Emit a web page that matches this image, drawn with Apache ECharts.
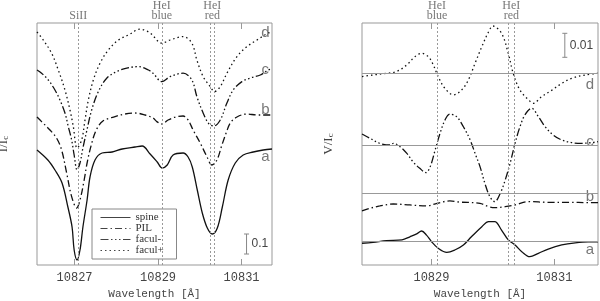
<!DOCTYPE html>
<html><head><meta charset="utf-8">
<script src="https://cdn.jsdelivr.net/npm/echarts@6/dist/echarts.min.js"></script>
<style>html,body{margin:0;padding:0;background:#fff}#c{width:600px;height:301px}</style>
</head><body><div id="c"></div>
<script>
// ---------- Left panel: intensity profiles I/Ic ----------
const wlSpineI = [10826.10,10826.36,10826.53,10826.70,10826.84,10826.94,10826.99,10827.06,10827.13,10827.20,10827.30,10827.37,10827.49,10827.66,10827.90,10828.14,10828.45,10828.62,10828.81,10828.98,10829.10,10829.22,10829.36,10829.60,10829.72,10829.82,10829.94,10830.06,10830.18,10830.30,10830.42,10830.54,10830.68,10830.85,10831.04,10831.28,10831.52,10831.73];
const iSpine = [0.995,0.945,0.895,0.83,0.71,0.61,0.495,0.445,0.495,0.61,0.745,0.86,0.945,0.98,0.985,1.0,1.01,1.015,0.975,0.935,0.905,0.92,0.97,0.98,0.96,0.91,0.795,0.68,0.605,0.575,0.605,0.71,0.845,0.93,0.97,0.985,0.995,1.0];

const wlPilI = [10826.10,10826.21,10826.41,10826.57,10826.69,10826.81,10826.93,10827.05,10827.13,10827.23,10827.30,10827.40,10827.52,10827.68,10827.97,10828.21,10828.45,10828.69,10828.88,10828.97,10829.09,10829.24,10829.45,10829.60,10829.72,10829.84,10830.01,10830.17,10830.29,10830.41,10830.53,10830.64,10830.73,10830.89,10831.13,10831.37,10831.57,10831.73];
const iPil = [0.99,0.967,0.925,0.884,0.825,0.71,0.592,0.535,0.575,0.675,0.76,0.85,0.925,0.97,0.992,1.005,1.01,1.0,0.985,0.967,0.955,0.975,0.992,0.995,0.975,0.925,0.86,0.792,0.75,0.775,0.85,0.915,0.96,0.99,1.005,1.0,1.0,1.0];

const wlFaculMinusI = [10826.10,10826.21,10826.37,10826.53,10826.65,10826.77,10826.85,10826.93,10826.99,10827.06,10827.13,10827.20,10827.28,10827.41,10827.57,10827.77,10828.01,10828.25,10828.53,10828.77,10828.88,10829.09,10829.29,10829.60,10829.81,10829.93,10830.08,10830.22,10830.34,10830.49,10830.65,10830.80,10831.01,10831.21,10831.45,10831.64,10831.73];
const iFaculMinus = [1.005,0.989,0.955,0.905,0.855,0.79,0.722,0.655,0.58,0.505,0.54,0.615,0.69,0.805,0.897,0.964,0.997,1.014,1.022,1.005,0.989,0.947,0.972,0.989,0.955,0.872,0.79,0.735,0.725,0.755,0.84,0.905,0.947,0.965,0.98,1.005,1.01];

const wlFaculPlusI = [10826.10,10826.25,10826.45,10826.61,10826.77,10826.89,10826.97,10827.06,10827.17,10827.25,10827.33,10827.45,10827.61,10827.81,10828.05,10828.29,10828.57,10828.81,10829.09,10829.29,10829.60,10829.81,10829.93,10830.08,10830.25,10830.35,10830.49,10830.65,10830.89,10831.13,10831.37,10831.64,10831.73];
const iFaculPlus = [1.005,0.965,0.899,0.815,0.715,0.615,0.532,0.425,0.465,0.565,0.665,0.765,0.849,0.915,0.965,0.99,1.019,1.0,0.949,0.965,0.982,0.949,0.865,0.782,0.732,0.707,0.732,0.799,0.882,0.932,0.965,1.0,1.005];

const offsetsI = [-0.42, -0.25, -0.03, 0.16];   // a, b, c, d vertical shifts

// ---------- Right panel: Stokes V/Ic ----------
const wlSpineV = [10827.87,10828.05,10828.27,10828.52,10828.65,10828.76,10828.84,10828.92,10829.00,10829.11,10829.25,10829.38,10829.52,10829.65,10829.82,10829.93,10830.03,10830.14,10830.25,10830.36,10830.47,10830.60,10830.74,10830.90,10831.12,10831.34,10831.55,10831.71];
const vSpine = [-0.0004,0,0.0007,0.0010,0.0023,0.0035,0.0047,0.0030,0.0003,-0.0025,-0.0042,-0.0032,-0.0011,0.0023,0.0065,0.0086,0.0086,0.0051,0.0010,-0.0011,-0.0039,-0.0060,-0.0046,-0.0028,-0.0011,-0.0002,0.0002,0.0002];

const wlPilV = [10827.87,10828.00,10828.16,10828.38,10828.65,10828.92,10829.09,10829.30,10829.46,10829.79,10829.93,10830.03,10830.20,10830.36,10830.58,10830.90,10831.23,10831.55,10831.71];
const vPil = [-0.0032,-0.0021,-0.0011,-0.0003,-0.0007,-0.0011,0,0.0010,0.0005,0,-0.0014,-0.0018,-0.0014,-0.0007,0.0007,0.0004,0.0004,0.0003,0.0003];

const wlFaculMinusV = [10827.87,10828.00,10828.16,10828.33,10828.38,10828.49,10828.60,10828.70,10828.81,10828.91,10828.98,10829.06,10829.14,10829.22,10829.30,10829.41,10829.52,10829.63,10829.71,10829.79,10829.87,10829.95,10830.03,10830.12,10830.20,10830.28,10830.36,10830.44,10830.52,10830.63,10830.74,10830.85,10830.98,10831.12,10831.28,10831.44,10831.61,10831.71];
const vFaculMinus = [0.0053,0.0035,0.0014,0.0007,0.0014,0,-0.0028,-0.0063,-0.0090,-0.0108,-0.0083,-0.0014,0.0056,0.0111,0.0136,0.0125,0.0083,0.0028,-0.0028,-0.0083,-0.0153,-0.0208,-0.0229,-0.0194,-0.0139,-0.0069,0.0014,0.0083,0.0132,0.0160,0.0125,0.0083,0.0049,0.0028,0.0017,0.0014,0.0017,0.0021];

const wlFaculPlusV = [10827.87,10828.05,10828.27,10828.43,10828.60,10828.73,10828.84,10828.95,10829.03,10829.11,10829.22,10829.36,10829.49,10829.60,10829.71,10829.82,10829.93,10830.00,10830.14,10830.25,10830.33,10830.44,10830.58,10830.66,10830.79,10830.96,10831.12,10831.28,10831.50,10831.71];
const vFaculPlus = [-0.0014,-0.0007,0,0.0007,0.0035,0.0069,0.0083,0.0069,0.0035,-0.0014,-0.0063,-0.0090,-0.0070,-0.0028,0.0042,0.0111,0.0173,0.0197,0.0167,0.0083,0,-0.0070,-0.0111,-0.0125,-0.0098,-0.0070,-0.0042,-0.0021,-0.0007,0];

const offsetsV = [0.00946, 0.02571, 0.04929, 0.07988]; // a, b, c, d zero levels

// ---------- annotations ----------
const seriesNames = ['spine', 'PIL', 'facul-', 'facul+'];
const curveLetters = ['a', 'b', 'c', 'd'];
const letterPosI = [[10831.57, 0.54], [10831.57, 0.775], [10831.57, 0.975], [10831.57, 1.16]];
const letterPosV = [[10831.58, 0.00625], [10831.58, 0.02833], [10831.58, 0.05125], [10831.58, 0.075]];
const lineWlLeft = [10827.09, 10829.09, 10830.25, 10830.34];
const lineWlRight = [10829.09, 10830.25, 10830.34];
const lineNamesLeft = ['SiII', 'HeI\nblue', 'HeI\nred'];
const lineNameWlLeft = [10827.09, 10829.09, 10830.30];
const lineNamesRight = ['HeI\nblue', 'HeI\nred'];
const lineNameWlRight = [10829.09, 10830.30];
const tickValsLeft = [10827, 10829, 10831];
const tickValsRight = [10829, 10831];
const scaleBarI = [10831.12, 0.055, 0.155, '0.1'];
const scaleBarV = [10831.17, 0.08654, 0.09654, '0.01'];

// ---------- chart ----------
const ink = '#111';
const gray = '#999';
const dashes = ['solid', [7, 3, 1.5, 3], [8, 2.5, 1.5, 2.5, 1.5, 2.5, 1.5, 2.5], [1.5, 3]];
const zip = (wl, vals, off) => wl.map((w, i) => [w, vals[i] + off]);
const IData = [[wlSpineI, iSpine], [wlPilI, iPil], [wlFaculMinusI, iFaculMinus], [wlFaculPlusI, iFaculPlus]];
const VData = [[wlSpineV, vSpine], [wlPilV, vPil], [wlFaculMinusV, vFaculMinus], [wlFaculPlusV, vFaculPlus]];

const series = [];
IData.forEach((d, k) => {
  const s = {
    name: seriesNames[k], type: 'line', xAxisIndex: 0, yAxisIndex: 0,
    data: zip(d[0], d[1], offsetsI[k]), symbol: 'none', smooth: 0.35,
    lineStyle: { color: ink, width: 1.3, type: dashes[k] }, itemStyle: { color: ink }, z: 3
  };
  if (k === 0) {
    s.markLine = { silent: true, symbol: ['none', 'none'], label: { show: false },
      lineStyle: { color: gray, width: 1, type: [2, 2] },
      data: lineWlLeft.map(w => ({ xAxis: w })) };
  }
  series.push(s);
});
VData.forEach((d, k) => {
  const ml = [{ yAxis: offsetsV[k], lineStyle: { color: gray, width: 1, type: 'solid' } }];
  if (k === 0) lineWlRight.forEach(w => ml.push({ xAxis: w, lineStyle: { color: gray, width: 1, type: [2, 2] } }));
  series.push({
    name: seriesNames[k] + ' V', type: 'line', xAxisIndex: 2, yAxisIndex: 1,
    data: zip(d[0], d[1], offsetsV[k]), symbol: 'none', smooth: 0.35,
    lineStyle: { color: ink, width: 1.3, type: dashes[k] }, z: 3,
    markLine: { silent: true, symbol: ['none', 'none'], label: { show: false }, data: ml }
  });
});

const topLabel = (names, wls, yTop, xi, yi) => ({
  type: 'scatter', xAxisIndex: xi, yAxisIndex: yi, clip: false, silent: true,
  symbolSize: 1, itemStyle: { color: 'rgba(0,0,0,0)' },
  data: names.map((n, i) => ({ value: [wls[i], yTop], label: { formatter: n } })),
  label: { show: true, position: 'top', distance: 2, color: '#555', fontFamily: 'Liberation Serif',
    fontSize: 12, lineHeight: 10, align: 'center' }
});
series.push(topLabel(lineNamesLeft, lineNameWlLeft, 1.21, 0, 0));
series.push(topLabel(lineNamesRight, lineNameWlRight, 0.100833, 2, 1));

const letters = (pos, xi, yi) => ({
  type: 'scatter', xAxisIndex: xi, yAxisIndex: yi, clip: false, silent: true,
  symbolSize: 1, itemStyle: { color: 'rgba(0,0,0,0)' },
  data: pos.map((p, i) => ({ value: p, label: { formatter: curveLetters[i] } })),
  label: { show: true, position: 'inside', color: '#555', fontFamily: 'Liberation Sans', fontSize: 15 }
});
series.push(letters(letterPosI, 0, 0));
series.push(letters(letterPosV, 2, 1));

const scaleBar = (sb, xi, yi) => ({
  type: 'custom', xAxisIndex: xi, yAxisIndex: yi, silent: true, clip: false,
  data: [sb.slice(0, 3)],
  renderItem: (p, api) => {
    const a = api.coord([api.value(0), api.value(1)]);
    const b = api.coord([api.value(0), api.value(2)]);
    const st = { stroke: '#888', lineWidth: 1 };
    return { type: 'group', children: [
      { type: 'line', shape: { x1: a[0], y1: a[1], x2: b[0], y2: b[1] }, style: st },
      { type: 'line', shape: { x1: a[0] - 2.5, y1: a[1], x2: a[0] + 2.5, y2: a[1] }, style: st },
      { type: 'line', shape: { x1: b[0] - 2.5, y1: b[1], x2: b[0] + 2.5, y2: b[1] }, style: st },
      { type: 'text', x: a[0] + 5, y: (a[1] + b[1]) / 2,
        style: { text: sb[3], fill: '#444', fontFamily: 'Liberation Sans', fontSize: 12, verticalAlign: 'middle', align: 'left' } }
    ] };
  }
});
series.push(scaleBar(scaleBarI, 0, 0));
series.push(scaleBar(scaleBarV, 2, 1));

const xAx = (grid, pos, min, max, ticks, labels) => ({
  type: 'value', gridIndex: grid, position: pos, min: min, max: max,
  axisLine: { show: false }, splitLine: { show: false },
  axisTick: { show: true, inside: true, length: 6, lineStyle: { color: gray }, customValues: ticks },
  axisLabel: { show: labels, customValues: ticks, margin: 7, color: '#444', fontFamily: 'Liberation Mono', fontSize: 12,
    formatter: v => String(v) },
  name: labels ? 'Wavelength [Å]' : '', nameLocation: 'middle', nameGap: 22,
  nameTextStyle: { color: '#444', fontFamily: 'Liberation Mono', fontSize: 11 }
});
const yAx = (grid, max, nm) => ({
  type: 'value', gridIndex: grid, min: 0, max: max,
  axisLine: { show: false }, axisTick: { show: false }, axisLabel: { show: false }, splitLine: { show: false },
  name: '{m|' + nm + '/I}{s|c}', nameLocation: 'middle', nameGap: 27, nameRotate: 90,
  nameTextStyle: { rich: {
    m: { fontFamily: 'Liberation Serif', fontSize: 13, color: '#444' },
    s: { fontFamily: 'Liberation Serif', fontSize: 9, color: '#444', verticalAlign: 'bottom', padding: [4, 0, 0, 0] } } }
});

const option = {
  animation: false,
  backgroundColor: '#fff',
  grid: [
    { left: 37, top: 23, width: 235, height: 242, show: true, borderColor: gray, borderWidth: 1, containLabel: false, outerBoundsMode: 'none' },
    { left: 362, top: 23, width: 236, height: 242, show: true, borderColor: gray, borderWidth: 1, containLabel: false, outerBoundsMode: 'none' }
  ],
  xAxis: [
    xAx(0, 'bottom', 10826.1, 10831.73, tickValsLeft, true),
    xAx(0, 'top', 10826.1, 10831.73, tickValsLeft, false),
    xAx(1, 'bottom', 10827.87, 10831.71, tickValsRight, true),
    xAx(1, 'top', 10827.87, 10831.71, tickValsRight, false)
  ],
  yAxis: [yAx(0, 1.21, 'I'), yAx(1, 0.100833, 'V')],
  legend: {
    data: seriesNames, orient: 'vertical', left: 92, top: 209, selectedMode: false, align: 'left',
    itemWidth: 30, itemHeight: 10, itemGap: 0, padding: [3, 4, 3, 8],
    borderColor: '#888', borderWidth: 1,
    itemStyle: { opacity: 0 },
    lineStyle: { width: 1, color: '#444' },
    textStyle: { fontFamily: 'Liberation Serif', fontSize: 11, color: '#333', lineHeight: 10, width: 37, align: 'left' }
  },
  series: series
};
const chart = echarts.init(document.getElementById('c'), null, { renderer: 'canvas' });
chart.setOption(option);
</script>
</body></html>
